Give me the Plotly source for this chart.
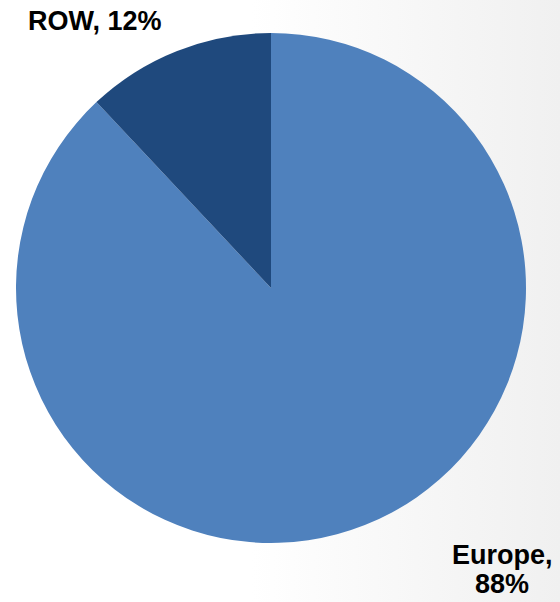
import plotly.graph_objects as go

labels = ["Europe", "ROW"]
values = [88, 12]
colors = ["#4F81BD", "#1F497D"]

W, H = 560, 602
fig = go.Figure()

# background gradient (white -> light gray at right)
fig.add_trace(go.Scatter(
    x=[0, 1, 1, 0, 0], y=[0, 0, 1, 1, 0], mode="lines", line=dict(width=0),
    fill="toself", fillgradient=dict(type="horizontal",
        colorscale=[[0, "#ffffff"], [0.45, "#ffffff"], [1, "#f0f0f0"]]),
    hoverinfo="skip", showlegend=False))

fig.add_trace(go.Pie(
    labels=labels, values=values, sort=False, direction="clockwise", rotation=0,
    marker=dict(colors=colors, line=dict(width=0)), textinfo="none",
    showlegend=False,
    domain=dict(x=[16 / W, 526 / W], y=[59 / H, 569 / H]),
))

font = dict(family="Liberation Sans, Arial, sans-serif", size=27, color="#000000")
fig.add_annotation(text="<b>%s, %d%%</b>" % (labels[1], values[1]), x=95 / W, y=1 - 21.5 / H,
                   xref="paper", yref="paper", xanchor="center", yanchor="middle",
                   showarrow=False, font=font)
fig.add_annotation(text="<b>%s,</b>" % labels[0], x=502 / W, y=1 - 554.5 / H,
                   xref="paper", yref="paper", xanchor="center", yanchor="middle",
                   showarrow=False, font=font)
fig.add_annotation(text="<b>%d%%</b>" % values[0], x=502 / W, y=1 - 583.5 / H,
                   xref="paper", yref="paper", xanchor="center", yanchor="middle",
                   showarrow=False, font=font)

fig.update_layout(
    width=W, height=H, margin=dict(l=0, r=0, t=0, b=0),
    paper_bgcolor="white", plot_bgcolor="rgba(0,0,0,0)",
    xaxis=dict(visible=False, range=[0, 1], domain=[0, 1], fixedrange=True),
    yaxis=dict(visible=False, range=[0, 1], domain=[0, 1], fixedrange=True),
)
fig.write_html("out.html", config={"displayModeBar": False},
               post_script="document.body.style.margin='0';document.body.style.overflow='hidden';")
